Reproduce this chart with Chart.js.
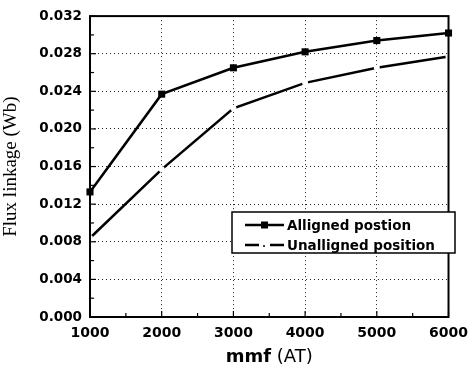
<!DOCTYPE html>
<html>
<head>
<meta charset="utf-8">
<script src="https://cdn.jsdelivr.net/npm/chart.js@4/dist/chart.umd.min.js"></script>
<style>
html,body{margin:0;padding:0;background:#fff;}
#wrap{width:476px;height:376px;}
</style>
</head>
<body>
<div id="wrap"><canvas id="c" width="476" height="376"></canvas></div>
<script>
const mmf = [1000, 2000, 3000, 4000, 5000, 6000];
const aligned = [0.0133, 0.0237, 0.0265, 0.0282, 0.0294, 0.0302];
const unaligned = [0.0084, 0.0157, 0.0222, 0.0249, 0.0265, 0.0277];
const seriesLabels = ['Alligned postion', 'Unalligned position'];
const xTitleBold = 'mmf';
const xTitleNormal = ' (AT)';
const yTitle = 'Flux linkage (Wb)';

const SANS = '"DejaVu Sans", Arial, sans-serif';
const SERIF = '"Liberation Serif", "Times New Roman", serif';

const framePlugin = {
  id: 'frame',
  afterDraw(chart) {
    const {ctx, chartArea: a, scales: {x, y}} = chart;
    ctx.save();
    ctx.strokeStyle = '#000';
    // minor / major inward ticks
    ctx.lineWidth = 1.2;
    for (let v = 1000; v <= 6000; v += 500) {
      const px = x.getPixelForValue(v);
      const len = (v % 1000 === 0) ? 6 : 4;
      ctx.beginPath(); ctx.moveTo(px, a.bottom); ctx.lineTo(px, a.bottom - len); ctx.stroke();
    }
    for (let i = 0; i <= 16; i++) {
      const v = i * 0.002;
      const py = y.getPixelForValue(v);
      const len = (i % 2 === 0) ? 6 : 4;
      ctx.beginPath(); ctx.moveTo(a.left, py); ctx.lineTo(a.left + len, py); ctx.stroke();
    }
    // frame
    ctx.lineWidth = 2;
    ctx.strokeRect(a.left, a.top, a.right - a.left, a.bottom - a.top);

    // legend
    const lx = 232, ly = 212, lw = 223, lh = 41;
    ctx.fillStyle = '#fff';
    ctx.fillRect(lx, ly, lw, lh);
    ctx.lineWidth = 1.5;
    ctx.strokeRect(lx, ly, lw, lh);
    ctx.fillStyle = '#000';
    ctx.font = 'bold 13.5px ' + SANS;
    ctx.textBaseline = 'middle';
    ctx.textAlign = 'left';
    // row 1
    let ry = 225;
    ctx.lineWidth = 2.5;
    ctx.beginPath(); ctx.moveTo(245, ry); ctx.lineTo(284, ry); ctx.stroke();
    ctx.fillRect(261, ry - 3.5, 7, 7);
    ctx.fillText(seriesLabels[0], 287, ry + 1);
    // row 2
    ry = 245;
    ctx.beginPath(); ctx.moveTo(245, ry); ctx.lineTo(259, ry); ctx.stroke();
    ctx.beginPath(); ctx.moveTo(270, ry); ctx.lineTo(284, ry); ctx.stroke();
    ctx.beginPath(); ctx.arc(264, ry + 1, 1, 0, Math.PI * 2); ctx.fill();
    ctx.fillText(seriesLabels[1], 287, ry + 1);

    // x title (mixed weight)
    ctx.font = 'bold 18px ' + SANS;
    const w1 = ctx.measureText(xTitleBold).width;
    ctx.font = '18px ' + SANS;
    const w2 = ctx.measureText(xTitleNormal).width;
    const cx = (a.left + a.right) / 2;
    const sx = cx - (w1 + w2) / 2;
    ctx.textBaseline = 'middle';
    ctx.font = 'bold 18px ' + SANS;
    ctx.fillText(xTitleBold, sx, 357);
    ctx.font = '18px ' + SANS;
    ctx.fillText(xTitleNormal, sx + w1, 357);
    ctx.restore();
  }
};

new Chart(document.getElementById('c'), {
  type: 'line',
  data: {
    datasets: [
      {
        label: seriesLabels[0],
        data: mmf.map((m, i) => ({x: m, y: aligned[i]})),
        borderColor: '#000', backgroundColor: '#000',
        borderWidth: 2.5, pointStyle: 'rect', pointRadius: 5,
        pointBackgroundColor: '#000', pointBorderWidth: 0,
        tension: 0, clip: false
      },
      {
        label: seriesLabels[1],
        data: mmf.map((m, i) => ({x: m, y: unaligned[i]})),
        borderColor: '#000', backgroundColor: '#fff',
        borderWidth: 2.5, pointStyle: 'circle', pointRadius: 3,
        pointBackgroundColor: '#fff', pointBorderWidth: 0,
        tension: 0, clip: false
      }
    ]
  },
  options: {
    responsive: false,
    animation: false,
    layout: {padding: {top: 16, right: 18, left: 0, bottom: 0}},
    plugins: {legend: {display: false}, tooltip: {enabled: false}},
    scales: {
      x: {
        type: 'linear', min: 1000, max: 6000,
        afterFit(s) { s.height = 59; },
        ticks: {
          stepSize: 1000, padding: 8, color: '#000',
          font: {family: SANS, size: 14, weight: 'bold'},
          callback: v => String(v), maxRotation: 0
        },
        grid: {color: '#222', lineWidth: 1, drawTicks: false},
        border: {display: false, dash: [1, 3]}
      },
      y: {
        min: 0, max: 0.032,
        afterFit(s) { s.width = 90; },
        ticks: {
          stepSize: 0.004, padding: 8, color: '#000',
          font: {family: SANS, size: 13.5, weight: 'bold'},
          callback: v => Number(v).toFixed(3)
        },
        grid: {color: '#222', lineWidth: 1, drawTicks: false},
        border: {display: false, dash: [1, 3]},
        title: {
          display: true, text: yTitle, color: '#000',
          font: {family: SERIF, size: 19},
          padding: {top: 0, bottom: 0}
        }
      }
    }
  },
  plugins: [framePlugin]
});
</script>
</body>
</html>
